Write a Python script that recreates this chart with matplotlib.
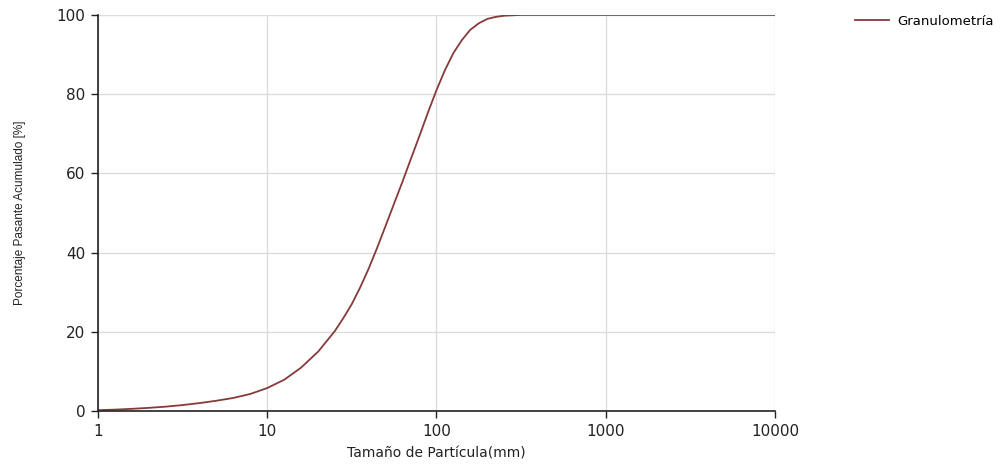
import matplotlib.pyplot as plt

plt.rcParams['font.family'] = ['DejaVu Sans']

# tamaño de partícula (mm) y porcentaje pasante acumulado (%)
size_mm = [1, 1.26, 1.58, 2, 2.51, 3.16, 3.98, 5.01, 6.31, 7.94, 10, 12.6,
           15.8, 20, 25.1, 28.2, 31.6, 35.5, 39.8, 44.7, 50.1, 56.2, 63.1,
           70.8, 79.4, 89.1, 100, 112, 126, 141, 158, 178, 200, 224, 251,
           316, 1000, 10000]
passing = [0.2, 0.35, 0.55, 0.8, 1.1, 1.5, 2.0, 2.6, 3.3, 4.3, 5.8, 7.9,
           10.9, 15.0, 20.2, 23.5, 27.0, 31.3, 36.0, 41.3, 46.8, 52.4, 58.0,
           63.8, 69.5, 75.4, 81.0, 86.0, 90.4, 93.6, 96.2, 97.9, 99.0, 99.5,
           99.8, 100, 100, 100]

x_ticks = [1, 10, 100, 1000, 10000]
y_ticks = [0, 20, 40, 60, 80, 100]

fig = plt.figure(figsize=(10.07, 4.66), dpi=100)
ax = fig.add_axes([0.0973, 0.118, 0.6723, 0.85])

ax.plot(size_mm, passing, color='#863a3a', lw=1.3, label='Granulometría')

ax.set_xscale('log')
ax.set_xlim(1, 10000)
ax.set_ylim(0, 100)
ax.set_xticks(x_ticks)
ax.set_xticklabels([str(t) for t in x_ticks])
ax.set_yticks(y_ticks)
ax.minorticks_off()

ax.grid(True, color='#dcdcdc', lw=1)
ax.set_axisbelow(True)
for s in ['top', 'right']:
    ax.spines[s].set_visible(False)
for s in ['left', 'bottom']:
    ax.spines[s].set_color('#222222')
    ax.spines[s].set_linewidth(1.2)
ax.tick_params(direction='out', length=5, width=1, colors='#222222',
               labelsize=11, pad=4)

ax.set_xlabel('Tamaño de Partícula(mm)', fontsize=10, color='#222222', labelpad=6)
ax.set_ylabel('Porcentaje Pasante Acumulado [%]', fontsize=8.5, color='#222222',
              family='Liberation Sans', labelpad=22)

ax.legend(loc='upper left', bbox_to_anchor=(1.1, 1.03), frameon=False,
          fontsize=9.5, handlelength=2.6, handletextpad=0.6)

fig.savefig('out.png', dpi=100)
